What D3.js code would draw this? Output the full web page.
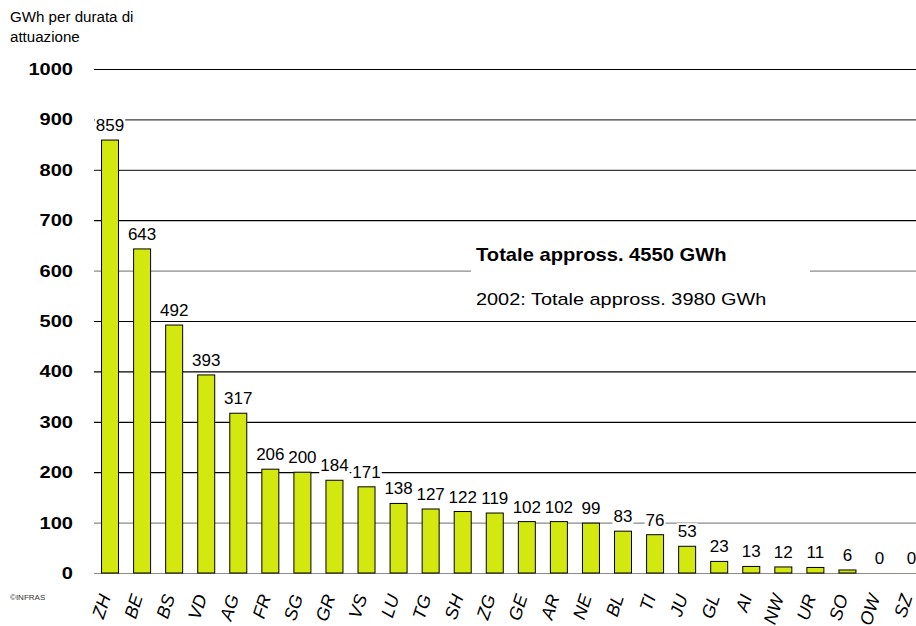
<!DOCTYPE html>
<html><head><meta charset="utf-8">
<script src="https://cdn.jsdelivr.net/npm/d3@7"></script>
<style>body{margin:0;background:#fff}svg{display:block}text{font-family:"Liberation Sans",Arial,sans-serif}</style>
</head><body><svg id="c" width="916" height="626"></svg>
<script>
const cantons = ["ZH","BE","BS","VD","AG","FR","SG","GR","VS","LU","TG","SH","ZG","GE","AR","NE","BL","TI","JU","GL","AI","NW","UR","SO","OW","SZ"];
const values = [859,643,492,393,317,206,200,184,171,138,127,122,119,102,102,99,83,76,53,23,13,12,11,6,0,0];
const yTicks = [0,100,200,300,400,500,600,700,800,900,1000];
const titleLines = ["GWh per durata di","attuazione"];
const noteLines = ["Totale appross. 4550 GWh","2002: Totale appross. 3980 GWh"];
const credit = "©INFRAS";

const svg = d3.select("#c");
const left = 94, right = 927.6;
const y = d3.scaleLinear().domain([0,1000]).range([573,69]);
const x = d3.scaleBand().domain(cantons).range([left,right]).paddingInner(0.47).paddingOuter(0.235);
const SX = 1.18;
const gridColor = v => (v===600||v===100||v===0) ? "#8a8a8a" : (v===800||v===900) ? "#3a3a3a" : "#000";

// grid + y axis
const ax = svg.append("g").attr("transform",`translate(${left},0)`)
  .call(d3.axisLeft(y).tickValues(yTicks).tickSize(-(right-left)).tickPadding(21).tickFormat(d3.format("d")));
ax.select(".domain").remove();
ax.selectAll(".tick line").attr("stroke",d=>gridColor(d)).attr("stroke-width",1.2);
ax.selectAll(".tick text").attr("font-size",17).attr("font-weight","bold").attr("fill","#000")
  .attr("font-family","Liberation Sans, Arial, sans-serif")
  .attr("x",-21/SX).attr("transform",`scale(${SX},1)`);

// annotation white box
svg.append("rect").attr("x",471).attr("y",238).attr("width",339).attr("height",78).attr("fill","#fff");
svg.append("text").attr("transform",`translate(476,261) scale(1.12,1)`).attr("font-size",18).attr("font-weight","bold").text(noteLines[0]);
svg.append("text").attr("transform",`translate(476,305) scale(1.17,1)`).attr("font-size",17).text(noteLines[1]);

// bars
svg.append("g").selectAll("rect").data(cantons).join("rect")
  .attr("x",d=>x(d)).attr("width",x.bandwidth())
  .attr("y",(d,i)=>y(values[i])).attr("height",(d,i)=>y(0)-y(values[i]))
  .attr("fill","#d2e80f").attr("stroke","#000").attr("stroke-width",1)
  .style("display",(d,i)=>values[i]>0?null:"none");

// value labels with white backgrounds
const lg = svg.append("g").selectAll("g").data(cantons).join("g")
  .attr("transform",(d,i)=>`translate(${x(d)+x.bandwidth()/2},${y(values[i])-9})`);
lg.append("text").attr("text-anchor","middle").attr("font-size",17)
  .attr("font-family","Liberation Sans Narrow, Arial Narrow, Liberation Sans, sans-serif")
  .text((d,i)=>values[i]);
lg.each(function(){
  const g = d3.select(this); const b = g.select("text").node().getBBox();
  g.insert("rect","text").attr("x",b.x-1).attr("y",b.y+1).attr("width",b.width+2).attr("height",b.height-2).attr("fill","#fff");
});

// x labels
svg.append("g").selectAll("text").data(cantons).join("text")
  .attr("transform",d=>`translate(${x(d)+x.bandwidth()/2-11},593) rotate(-72)`)
  .attr("text-anchor","end").attr("dy","0.7em").attr("font-size",18).attr("font-style","italic")
  .text(d=>d);

// title
svg.append("g").selectAll("text").data(titleLines).join("text")
  .attr("transform",(d,i)=>`translate(10,${22+i*20}) scale(1.08,1)`).attr("font-size",14).text(d=>d);
svg.append("text").attr("x",10).attr("y",600).attr("font-size",8).attr("fill","#333").text(credit);
</script></body></html>
